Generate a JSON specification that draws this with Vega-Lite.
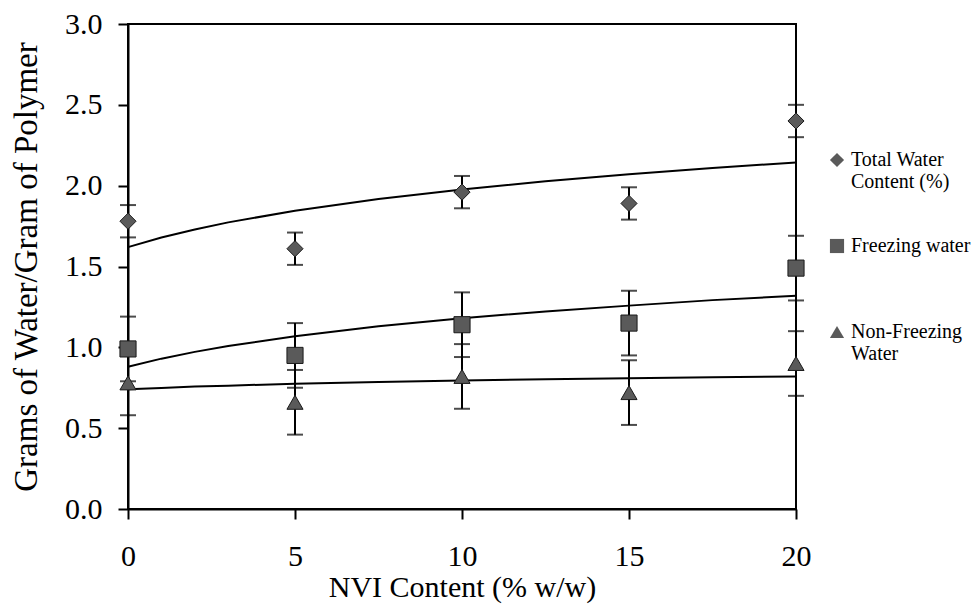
{
  "$schema": "https://vega.github.io/schema/vega-lite/v6.json",
  "width": 668,
  "height": 485,
  "autosize": {"type": "none"},
  "padding": {"left": 128, "top": 24, "right": 183, "bottom": 107},
  "background": "white",
  "config": {
    "font": "Liberation Serif",
    "view": {"stroke": "black", "strokeWidth": 2},
    "axis": {"domainColor": "black", "domainWidth": 2, "tickColor": "black", "tickWidth": 2, "labelColor": "black", "titleColor": "black", "labelFont": "Liberation Serif", "titleFont": "Liberation Serif", "titleFontWeight": "normal", "grid": false}
  },
  "datasets": {
    "points": [
      {"series": "Total Water Content (%)", "x": 0, "y": 1.78, "err": 0.1},
      {"series": "Total Water Content (%)", "x": 5, "y": 1.61, "err": 0.1},
      {"series": "Total Water Content (%)", "x": 10, "y": 1.96, "err": 0.1},
      {"series": "Total Water Content (%)", "x": 15, "y": 1.89, "err": 0.1},
      {"series": "Total Water Content (%)", "x": 20, "y": 2.40, "err": 0.1},
      {"series": "Freezing water", "x": 0, "y": 0.99, "err": 0.2},
      {"series": "Freezing water", "x": 5, "y": 0.95, "err": 0.2},
      {"series": "Freezing water", "x": 10, "y": 1.14, "err": 0.2},
      {"series": "Freezing water", "x": 15, "y": 1.15, "err": 0.2},
      {"series": "Freezing water", "x": 20, "y": 1.49, "err": 0.2},
      {"series": "Non-Freezing Water", "x": 0, "y": 0.78, "err": 0.2},
      {"series": "Non-Freezing Water", "x": 5, "y": 0.66, "err": 0.2},
      {"series": "Non-Freezing Water", "x": 10, "y": 0.82, "err": 0.2},
      {"series": "Non-Freezing Water", "x": 15, "y": 0.72, "err": 0.2},
      {"series": "Non-Freezing Water", "x": 20, "y": 0.90, "err": 0.2}
    ],
    "trend": [
      {"series": "Total Water Content (%)", "x": 0, "y": 1.62},
      {"series": "Total Water Content (%)", "x": 1, "y": 1.679},
      {"series": "Total Water Content (%)", "x": 2, "y": 1.729},
      {"series": "Total Water Content (%)", "x": 3, "y": 1.773},
      {"series": "Total Water Content (%)", "x": 5, "y": 1.845},
      {"series": "Total Water Content (%)", "x": 7.5, "y": 1.918},
      {"series": "Total Water Content (%)", "x": 10, "y": 1.977},
      {"series": "Total Water Content (%)", "x": 12.5, "y": 2.027},
      {"series": "Total Water Content (%)", "x": 15, "y": 2.071},
      {"series": "Total Water Content (%)", "x": 17.5, "y": 2.11},
      {"series": "Total Water Content (%)", "x": 20, "y": 2.143},
      {"series": "Freezing water", "x": 0, "y": 0.88},
      {"series": "Freezing water", "x": 1, "y": 0.93},
      {"series": "Freezing water", "x": 2, "y": 0.972},
      {"series": "Freezing water", "x": 3, "y": 1.008},
      {"series": "Freezing water", "x": 5, "y": 1.069},
      {"series": "Freezing water", "x": 7.5, "y": 1.13},
      {"series": "Freezing water", "x": 10, "y": 1.18},
      {"series": "Freezing water", "x": 12.5, "y": 1.222},
      {"series": "Freezing water", "x": 15, "y": 1.258},
      {"series": "Freezing water", "x": 17.5, "y": 1.292},
      {"series": "Freezing water", "x": 20, "y": 1.319},
      {"series": "Non-Freezing Water", "x": 0, "y": 0.74},
      {"series": "Non-Freezing Water", "x": 1, "y": 0.749},
      {"series": "Non-Freezing Water", "x": 2, "y": 0.757},
      {"series": "Non-Freezing Water", "x": 3, "y": 0.763},
      {"series": "Non-Freezing Water", "x": 5, "y": 0.775},
      {"series": "Non-Freezing Water", "x": 7.5, "y": 0.786},
      {"series": "Non-Freezing Water", "x": 10, "y": 0.795},
      {"series": "Non-Freezing Water", "x": 12.5, "y": 0.803},
      {"series": "Non-Freezing Water", "x": 15, "y": 0.809},
      {"series": "Non-Freezing Water", "x": 17.5, "y": 0.815},
      {"series": "Non-Freezing Water", "x": 20, "y": 0.82}
    ]
  },
  "encoding": {
    "x": {
      "field": "x", "type": "quantitative",
      "scale": {"domain": [0, 20], "nice": false},
      "axis": {"title": "NVI Content (% w/w)", "values": [0, 5, 10, 15, 20], "tickSize": 10, "labelPadding": 22, "labelFontSize": 30, "titleFontSize": 30, "titlePadding": 1, "labelFlush": false}
    },
    "y": {
      "field": "y", "type": "quantitative",
      "scale": {"domain": [0, 3], "nice": false},
      "axis": {"title": "Grams of Water/Gram of Polymer", "values": [0, 0.5, 1, 1.5, 2, 2.5, 3], "format": ".1f", "tickSize": 10, "labelPadding": 16, "labelFontSize": 30, "titleFontSize": 33, "titlePadding": 21, "labelFlush": false}
    }
  },
  "layer": [
    {
      "data": {"name": "trend"},
      "mark": {"type": "line", "color": "black", "strokeWidth": 2},
      "encoding": {"detail": {"field": "series"}}
    },
    {
      "data": {"name": "points"},
      "mark": {"type": "errorbar", "color": "black", "rule": {"strokeWidth": 2}, "ticks": {"size": 16, "thickness": 2}},
      "encoding": {"yError": {"field": "err"}, "detail": {"field": "series"}}
    },
    {
      "data": {"name": "points"},
      "mark": {"type": "point", "filled": true, "fill": "#5a5a5a", "stroke": "#1a1a1a", "strokeWidth": 1, "opacity": 1, "size": 260},
      "encoding": {
        "shape": {
          "field": "series", "type": "nominal",
          "scale": {"domain": ["Total Water Content (%)", "Freezing water", "Non-Freezing Water"], "range": ["diamond", "square", "triangle-up"]},
          "legend": {
            "title": null, "orient": "none", "legendX": 699, "legendY": 126, "padding": 0,
            "labelFont": "Liberation Serif", "labelFontSize": 20, "labelColor": "black", "labelOffset": 4,
            "symbolSize": 200, "symbolFillColor": "#5a5a5a", "symbolStrokeColor": "#1a1a1a", "symbolStrokeWidth": 1, "symbolOpacity": 1,
            "rowPadding": 44, "labelLimit": 300,
            "labelExpr": "datum.label == 'Total Water Content (%)' ? ['Total Water', 'Content (%)'] : datum.label == 'Non-Freezing Water' ? ['Non-Freezing', 'Water'] : ['Freezing water', ' ']"
          }
        }
      }
    }
  ]
}
